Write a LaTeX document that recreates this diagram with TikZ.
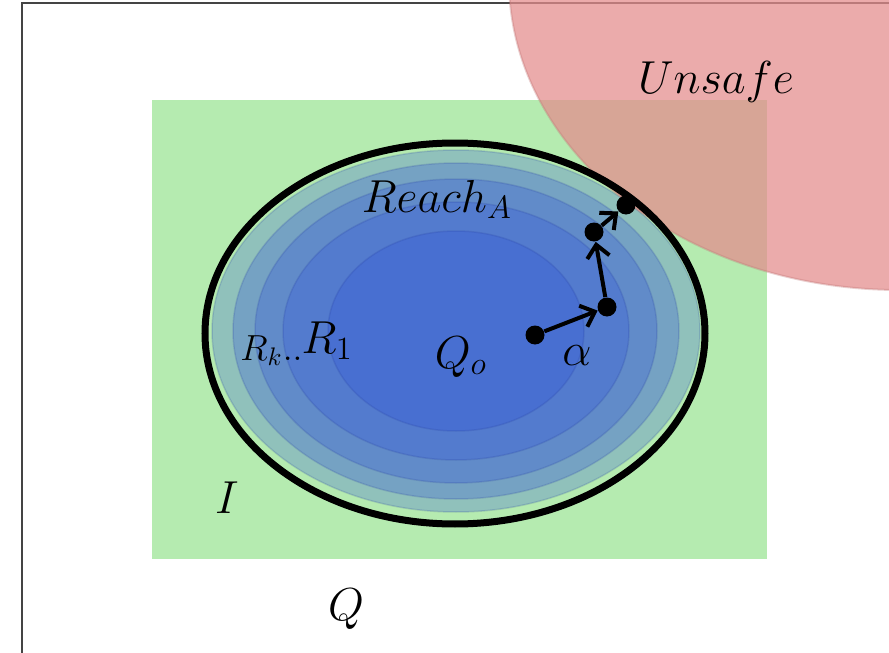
\RequirePackage{fix-cm}
\documentclass[tikz,border=0pt]{standalone}
\usepackage{xcolor}
\usepackage{tikz}
\usetikzlibrary{arrows.meta,positioning}
\definecolor{FrameGray}{HTML}{444444}
\definecolor{InitGreen}{HTML}{B5EBB0}
\definecolor{UnsafeRed}{HTML}{E48D8D}
\definecolor{ReachBlue}{HTML}{2E50DC}

\begin{document}
\begin{tikzpicture}[x=0.4pt, y=-0.4pt, >={Straight Barb[length=5pt,width=9pt]}]
\tikzset{lbl/.style={font=\fontsize{18.5}{21}\selectfont, inner sep=0pt, anchor=base}, ring/.style={fill=ReachBlue, fill opacity=.27, draw=ReachBlue!70!black, draw opacity=.18, line width=.6pt}, pt/.style={circle, fill=black, inner sep=0pt, minimum size=7.6pt}, hop/.style={->, line width=1.6pt}}
\useasboundingbox (0,0) rectangle (889,653);
\draw[FrameGray, line width=.9pt] (22,653) -- (22,3) -- (889,3);
\fill[InitGreen] (152,100) rectangle (767,559);
% reach sets R_k .. R_1 and Q_o
\foreach \rx/\ry in {244/181, 223/168, 201/152, 173/129, 128/100}
  \draw[ring] (456,331) ellipse [x radius=\rx, y radius=\ry];
\draw[fill=UnsafeRed, fill opacity=.74, draw=UnsafeRed!85!black, draw opacity=.35, line width=.8pt] (900,-20) ellipse [x radius=391, y radius=310];
\draw[line width=2.8pt] (455,333.5) ellipse [x radius=250, y radius=190.5];
% trajectory alpha
\node[pt] (s0) at (535,335) {};
\node[pt] (s1) at (607,307) {};
\node[pt] (s2) at (594,232) {};
\node[pt] (s3) at (626,205) {};
\foreach \a/\b in {s0/s1,s1/s2,s2/s3} \draw[hop] (\a)--(\b);
\node[lbl] (unsafe) at (716,93) {$Unsafe$};
\node[lbl] (reach) at (437,212) {$Reach_A$};
\node[lbl, font=\fontsize{14.5}{17}\selectfont, anchor=base west] (rk) at (240,360) {$R_k..$};
\node[lbl, anchor=base west] (rone) at (301,353) {$R_1$};
\node[lbl] (qo) at (461,368) {$Q_o$};
\node[lbl] (alpha) at (577,365) {$\alpha$};
\node[lbl] (init) at (227,513) {$I$};
\node[lbl] (space) at (346,620) {$Q$};
\end{tikzpicture}
\end{document}
